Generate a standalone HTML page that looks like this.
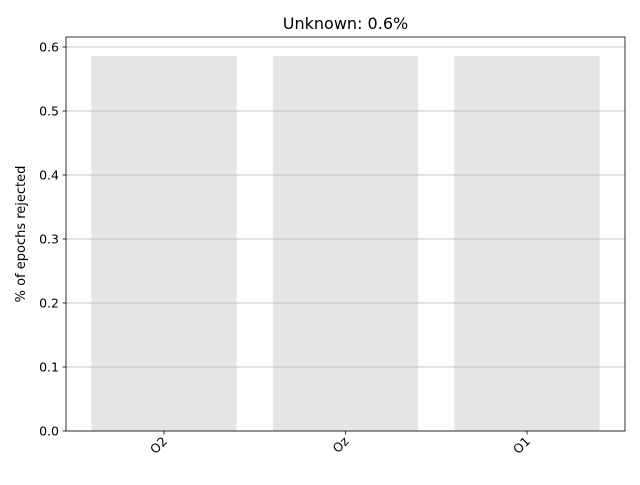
<!DOCTYPE html>
<html><head><meta charset="utf-8"><style>
body{margin:0;background:#fff;}
svg text{font-family:"DejaVu Sans","Liberation Sans",sans-serif;}
</style></head><body>
<svg id="chart" width="640" height="480" viewBox="0 0 640 480" xmlns="http://www.w3.org/2000/svg">
<text x="345.5" y="29" font-size="16" text-anchor="middle">Unknown: 0.6%</text>
<g id="bars"></g>
<g id="grid"></g>
<g id="axes"></g>
<text transform="translate(25,234) rotate(-90)" font-size="13" text-anchor="middle">% of epochs rejected</text>
</svg>
<script>
const categories = ["O2", "Oz", "O1"];
const values = [0.586, 0.586, 0.586];
const yTicks = [0.0, 0.1, 0.2, 0.3, 0.4, 0.5, 0.6];
const yTickLabels = ["0.0", "0.1", "0.2", "0.3", "0.4", "0.5", "0.6"];

const L = 66, R = 625, T = 37, B = 431;
const yMax = 0.6156;
const xMin = -0.54, xMax = 2.54;
const ns = "http://www.w3.org/2000/svg";
const y = v => B - v / yMax * (B - T);
const x = i => L + (i - xMin) / (xMax - xMin) * (R - L);
const unit = (R - L) / (xMax - xMin);
function mk(tag, attrs, parent) {
  const e = document.createElementNS(ns, tag);
  for (const k in attrs) e.setAttribute(k, attrs[k]);
  parent.appendChild(e);
  return e;
}
const grid = document.getElementById('grid'), bars = document.getElementById('bars'), axes = document.getElementById('axes');
yTicks.forEach((t, i) => {
  const g = mk('line', {x1: L, x2: R, y1: y(t), y2: y(t), stroke: '#b0b0b0', 'stroke-width': 0.8}, grid);
  
  
  const tk = mk('line', {x1: L - 3.5, x2: L, y1: y(t), y2: y(t), stroke: '#000', 'stroke-width': 0.8}, axes);
  
  
  const lb = mk('text', {x: L - 7, y: y(t) + 4.5, 'font-size': 12.5, 'text-anchor': 'end'}, axes);
  lb.textContent = yTickLabels[i];
  
  
});
categories.forEach((c, i) => {
  const r = mk('rect', {x: x(i) - 0.4 * unit, width: 0.8 * unit, y: y(values[i]), height: B - y(values[i]), fill: '#e5e5e5'}, bars);
  
  
  const tk = mk('line', {x1: x(i), x2: x(i), y1: B, y2: B + 3.5, stroke: '#000', 'stroke-width': 0.8}, axes);
  
  
  const lb = mk('text', {transform: `translate(${x(i) + 4},${B + 11}) rotate(-45)`, 'font-size': 12.5, 'text-anchor': 'end'}, axes);
  lb.textContent = c;
  
  
});
const frame = mk('rect', {x: L, y: T, width: R - L, height: B - T, fill: 'none', stroke: '#000', 'stroke-width': 0.8}, axes);


</script>
</body></html>
